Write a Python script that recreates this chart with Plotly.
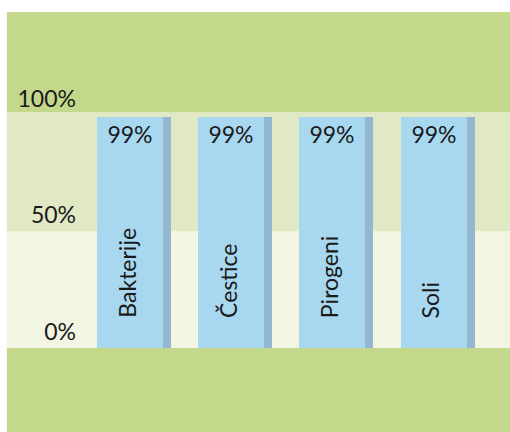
import plotly.graph_objects as go

categories = ["Bakterije", "Čestice", "Pirogeni", "Soli"]
values = [99, 99, 99, 99]
value_labels = ["99%", "99%", "99%", "99%"]
tick_vals = [0, 50, 100]
tick_text = ["0%", "50%", "100%"]
band_edges = [-36, 0, 50, 101, 144]
band_colors = ["#c4d88c", "#f2f5e2", "#e0e9c4", "#c4d88c"]

FONT = "Lato, 'DejaVu Sans', sans-serif"
FS = 23

fig = go.Figure()

# shadow (right edge) bar
fig.add_trace(go.Bar(
    x=categories, y=values, width=0.73, offset=-0.362,
    marker=dict(color="#93b7d0", line=dict(width=0)),
    hoverinfo="skip", showlegend=False,
))
# main blue bar
fig.add_trace(go.Bar(
    x=categories, y=values, width=0.652, offset=-0.362,
    marker=dict(color="#a8d8f0", line=dict(width=0)),
    text=value_labels, textposition="inside", insidetextanchor="end",
    textangle=0, constraintext="none",
    textfont=dict(family=FONT, size=FS, color="#1a1a1a"),
    showlegend=False,
))

for i in range(len(band_colors)):
    fig.add_shape(type="rect", xref="paper", yref="y",
                  x0=-0.188, x1=1.1, y0=band_edges[i], y1=band_edges[i + 1],
                  fillcolor=band_colors[i], line=dict(width=0), layer="below")

for c in categories:
    fig.add_annotation(x=c, y=0, text=c, showarrow=False, textangle=-90,
                       yanchor="bottom", yshift=28, xshift=-7,
                       font=dict(family=FONT, size=FS, color="#1a1a1a"))

fig.update_layout(
    width=510, height=432,
    margin=dict(l=83, r=22, t=12, b=0),
    paper_bgcolor="white", plot_bgcolor="rgba(0,0,0,0)",
    barmode="overlay", bargap=0,
    font=dict(family=FONT, size=FS, color="#1a1a1a"),
    xaxis=dict(range=[-0.5, 3.5], showticklabels=False, showgrid=False,
               zeroline=False, showline=False, ticks=""),
    yaxis=dict(range=[-36, 144], tickvals=tick_vals, ticktext=tick_text,
               ticklabelshift=-16, ticklabelstandoff=6, showgrid=False,
               zeroline=False, showline=False, ticks="",
               tickfont=dict(family=FONT, size=FS, color="#1a1a1a")),
)

fig.write_html(
    "out.html",
    config={"displayModeBar": False},
    post_script="document.body.style.margin='0';document.body.style.overflow='hidden';",
)
